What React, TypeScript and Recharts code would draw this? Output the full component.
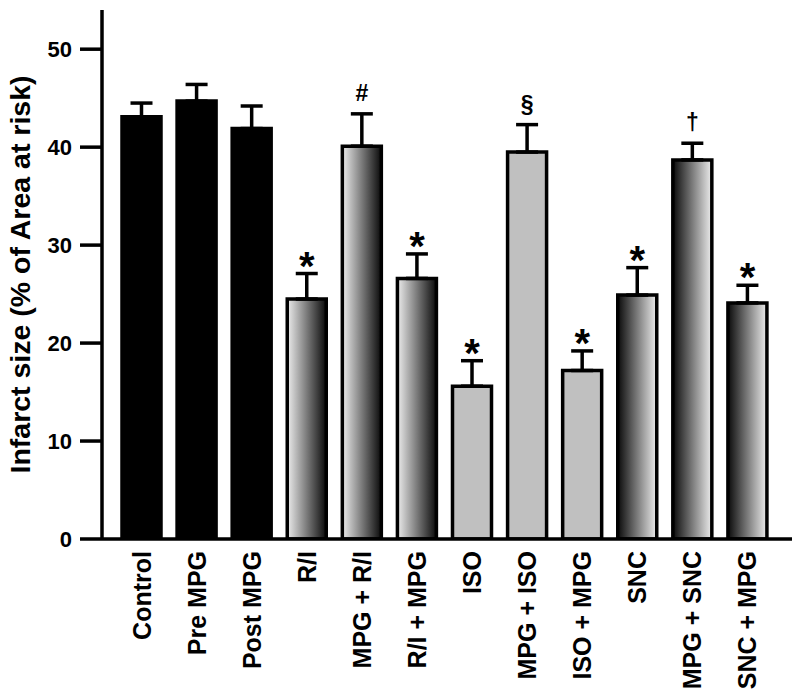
import React from 'react';
import { BarChart, Bar, XAxis, YAxis, ErrorBar, Cell, LabelList } from 'recharts';

const groups = ['Control', 'Pre MPG', 'Post MPG', 'R/I', 'MPG + R/I', 'R/I + MPG', 'ISO', 'MPG + ISO', 'ISO + MPG', 'SNC', 'MPG + SNC', 'SNC + MPG'];
const infarct = [43.1, 44.7, 41.9, 24.5, 40.1, 26.6, 15.6, 39.5, 17.2, 24.9, 38.7, 24.1];
const sem = [1.4, 1.7, 2.3, 2.6, 3.3, 2.5, 2.6, 2.8, 2.0, 2.8, 1.7, 1.8];
const marks = ['', '', '', '*', '#', '*', '*', '§', '*', '*', '†', '*'];
const yTicks = [0, 10, 20, 30, 40, 50];

const fills = [
  '#000', '#000', '#000',
  'url(#lightDark)', 'url(#lightDark)', 'url(#lightDark)',
  '#c0c0c0', '#c0c0c0', '#c0c0c0',
  'url(#darkLight)', 'url(#darkLight)', 'url(#darkLight)',
];

const data = groups.map((g, i) => ({
  group: g,
  value: infarct[i],
  err: [0, sem[i]],
  mark: marks[i],
}));

const FONT = '"Liberation Sans", Arial, Helvetica, sans-serif';

function GroupTick(props: any) {
  const { x, y, payload } = props;
  const ty = y + 4;
  return (
    <text
      x={x}
      y={ty}
      transform={`rotate(-90, ${x}, ${ty})`}
      textAnchor="end"
      dy="0.36em"
      fontFamily={FONT}
      fontWeight="bold"
      fontSize={25}
      fill="#000"
    >
      {payload.value}
    </text>
  );
}

function Marker(props: any) {
  const { x, y, width, height, index } = props;
  const m = marks[index];
  if (!m) return null;
  const perUnit = height / infarct[index];
  const errTop = y - sem[index] * perUnit;
  const cx = x + width / 2;
  if (m === '*') {
    return (
      <text x={cx} y={errTop + 6} textAnchor="middle" fontFamily={FONT} fontWeight="bold" fontSize={40} fill="#000">
        *
      </text>
    );
  }
  return (
    <text x={cx} y={errTop - 13} textAnchor="middle" fontFamily={FONT} fontWeight="bold" fontSize={23} fill="#000">
      {m}
    </text>
  );
}

export default function App() {
  return (
    <div style={{ position: 'absolute', left: 0, top: 0, background: '#fff' }}>
      <BarChart
        width={800}
        height={693}
        data={data}
        margin={{ top: 10, right: 8, left: 0, bottom: 0 }}
        barSize={39}
      >
        <defs>
          <linearGradient id="lightDark" x1="0" y1="0" x2="1" y2="0">
            <stop offset="0%" stopColor="#ececec" />
            <stop offset="100%" stopColor="#0a0a0a" />
          </linearGradient>
          <linearGradient id="darkLight" x1="0" y1="0" x2="1" y2="0">
            <stop offset="0%" stopColor="#0a0a0a" />
            <stop offset="100%" stopColor="#ececec" />
          </linearGradient>
        </defs>
        <XAxis
          dataKey="group"
          height={154}
          interval={0}
          tickLine={false}
          axisLine={{ stroke: '#000', strokeWidth: 3.5 }}
          tick={<GroupTick />}
          padding={{ left: 12, right: 17 }}
        />
        <YAxis
          width={102}
          domain={[0, 54]}
          ticks={yTicks}
          allowDataOverflow
          tickSize={22}
          tickMargin={8}
          tickLine={{ stroke: '#000', strokeWidth: 3.5 }}
          axisLine={{ stroke: '#000', strokeWidth: 3.5 }}
          tick={{ fill: '#000', fontFamily: FONT, fontWeight: 'bold', fontSize: 22 }}
          label={{
            value: 'Infarct size (% of Area at risk)',
            angle: -90,
            position: 'insideLeft',
            offset: 0,
            dx: 20,
            style: { textAnchor: 'middle', fontFamily: FONT, fontWeight: 'bold', fontSize: 28.5, fill: '#000' },
          }}
        />
        <Bar dataKey="value" stroke="#000" strokeWidth={3.5} isAnimationActive={false}>
          {data.map((d, i) => (
            <Cell key={`c-${i}`} fill={fills[i]} />
          ))}
          <ErrorBar dataKey="err" direction="y" width={11} stroke="#000" strokeWidth={3.5} />
          <LabelList dataKey="mark" content={<Marker />} />
        </Bar>
      </BarChart>
    </div>
  );
}
